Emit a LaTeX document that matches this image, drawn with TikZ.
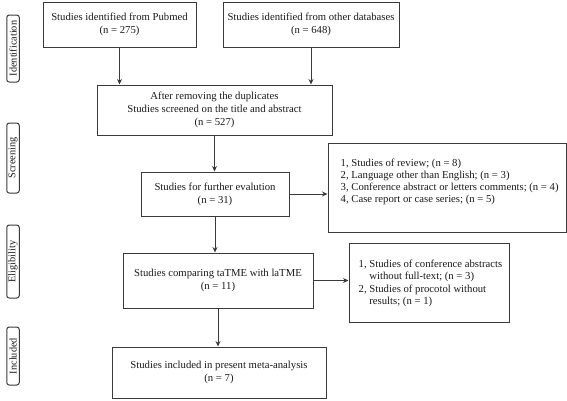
\documentclass[tikz,border=0pt]{standalone}
\usepackage{fontspec}
\setmainfont{Liberation Serif}
\usetikzlibrary{arrows.meta}
\definecolor{ln}{HTML}{3A3A3A}
\definecolor{tx}{HTML}{1A1A1A}
\tikzset{
  box/.style={draw=ln, line width=1pt, align=center, inner sep=0pt, text=tx,
    font=\fontsize{10.7}{13}\selectfont},
  side/.style={draw=ln, line width=1pt, rounded corners=2.5pt, rotate=90, inner sep=0pt,
    text=tx, font=\fontsize{10.3}{11}\selectfont, minimum height=12.5pt},
  txt/.style={align=left, inner sep=0pt, text=tx, font=\fontsize{10.7}{12.2}\selectfont},
  arr/.style={draw=ln, line width=1pt, -{Stealth[length=5.5pt,width=5pt]}}
}
\begin{document}
\begin{tikzpicture}[x=1pt,y=-1pt]
\useasboundingbox (0,0) rectangle (567,400);
% side labels
\node[side, minimum width=67pt] (sid) at (13,48.5) {Identification};
\node[side, minimum width=70pt] (ssc) at (13,158) {Screening};
\node[side, minimum width=73pt] (sel) at (13,261.5) {Eligibility};
\node[side, minimum width=58pt] (sin) at (13,356) {Included};
% main boxes
\node[box, minimum width=153pt, minimum height=45pt] (pub) at (119.5,24.5) {Studies identified from Pubmed\\(n = 275)};
\node[box, minimum width=176pt, minimum height=45pt] (oth) at (311,24.5) {Studies identified from other databases\\(n = 648)};
\node[box, minimum width=235pt, minimum height=50pt] (dup) at (214.5,110) {After removing the duplicates\\Studies screened on the title and abstract\\(n = 527)};
\node[box, minimum width=148pt, minimum height=44pt] (fur) at (215,194) {Studies for further evalution\\(n = 31)};
\node[box, minimum width=238pt, minimum height=89pt] (ex1) at (447,187.5) {};
\node[txt, anchor=north west] (ex1t) at ([xshift=13pt,yshift=-16pt]ex1.north west) {1, Studies of review; (n = 8)\\2, Language other than English; (n = 3)\\3, Conference abstract or letters comments; (n = 4)\\4, Case report or case series; (n = 5)};
\node[box, minimum width=190pt, minimum height=55pt] (cmp) at (218,280.5) {Studies comparing taTME with laTME\\(n = 11)};
\node[box, minimum width=160pt, minimum height=79pt] (ex2) at (429,283) {};
\node[txt, anchor=north west] (ex2t) at ([xshift=10pt,yshift=-16pt]ex2.north west) {\begin{tabular}{@{}l@{ }l@{}}1, & Studies of conference abstracts\\ & without full-text; (n = 3)\\2, & Studies of procotol without\\ & results; (n = 1)\end{tabular}};
\node[box, minimum width=214pt, minimum height=51pt] (inc) at (219,372.5) {Studies included in present meta-analysis\\(n = 7)};
% arrows
\draw[arr] (pub.south) -- (pub.south |- dup.north);
\draw[arr] (oth.south) -- (oth.south |- dup.north);
\draw[arr] (dup.south) -- (dup.south |- fur.north);
\draw[arr] (fur.east) -- (fur.east -| ex1.west);
\draw[arr] (fur.south) -- (fur.south |- cmp.north);
\draw[arr] (cmp.east) -- (cmp.east -| ex2.west);
\draw[arr] (cmp.south) -- (cmp.south |- inc.north);
\end{tikzpicture}
\end{document}
